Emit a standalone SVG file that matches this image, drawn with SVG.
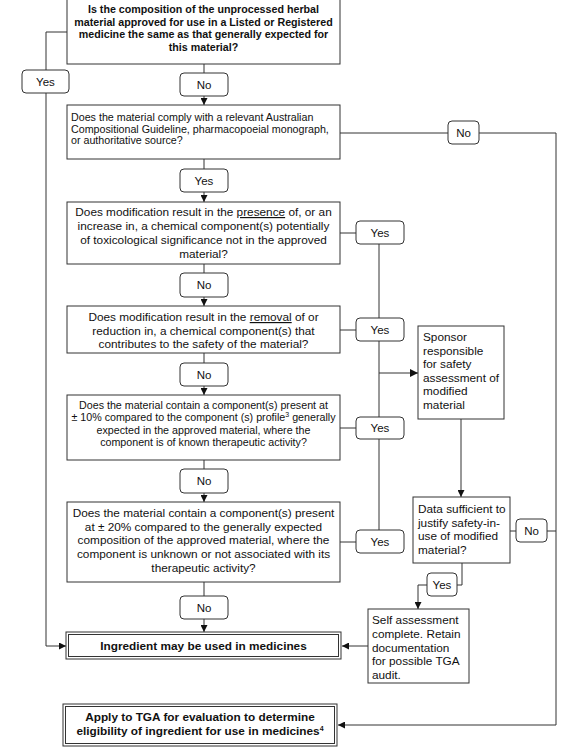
<svg xmlns="http://www.w3.org/2000/svg" width="575" height="749" viewBox="0 0 575 749">
<style>
.box{fill:#fff;stroke:#333;stroke-width:1}
.lbl{fill:#fff;stroke:#333;stroke-width:1}
.ln{fill:none;stroke:#333;stroke-width:1}
text{font-family:"Liberation Sans",Arial,sans-serif;fill:#111}
.t{font-size:11.8px}
.s{font-size:10.7px}
.b{font-weight:bold}
.c{text-anchor:middle}
.l{font-size:11.5px;text-anchor:middle}
</style>
<defs>
<marker id="ah" viewBox="0 0 10 10" refX="10" refY="5" markerWidth="7" markerHeight="7" markerUnits="userSpaceOnUse" orient="auto">
<path d="M0,0 L10,5 L0,10 z" fill="#111"/>
</marker>
<marker id="ah2" viewBox="0 0 10 10" refX="10" refY="5" markerWidth="8" markerHeight="8" markerUnits="userSpaceOnUse" orient="auto">
<path d="M0,0 L10,5 L0,10 z" fill="#111"/>
</marker>
</defs>

<g id="connectors">
<path class="ln" d="M67,32 H46 V646 H66" marker-end="url(#ah)"/>
<path class="ln" d="M204,64 V105" marker-end="url(#ah)"/>
<path class="ln" d="M340,133 H556 V725 H338" marker-end="url(#ah)"/>
<path class="ln" d="M204,159 V202" marker-end="url(#ah)"/>
<path class="ln" d="M204,264 V306" marker-end="url(#ah)"/>
<path class="ln" d="M204,353 V395" marker-end="url(#ah)"/>
<path class="ln" d="M204,460 V502" marker-end="url(#ah)"/>
<path class="ln" d="M204,582 V632" marker-end="url(#ah)"/>
<path class="ln" d="M340,233 H379 V542"/>
<path class="ln" d="M340,330 H379"/>
<path class="ln" d="M340,428 H379"/>
<path class="ln" d="M340,542 H379"/>
<path class="ln" d="M379,373 H418" stroke-width="2" marker-end="url(#ah2)"/>
<path class="ln" d="M461,419 V497" marker-end="url(#ah)"/>
<path class="ln" d="M510,531 H556"/>
<path class="ln" d="M462,563 V585 H418 V609" marker-end="url(#ah)"/>
<path class="ln" d="M368,646 H342" marker-end="url(#ah)"/>
</g>

<g id="q1">
<rect class="box" x="67" y="-1" width="273" height="65"/>
<text class="s b c" x="203.5" y="13">Is the composition of the unprocessed herbal</text>
<text class="s b c" x="203.5" y="25.7">material approved for use in a Listed or Registered</text>
<text class="s b c" x="203.5" y="38.4">medicine the same as that generally expected for</text>
<text class="s b c" x="203.5" y="51.1">this material?</text>
</g>

<g id="q2">
<rect class="box" x="67" y="105" width="273" height="54"/>
<text class="s" x="71" y="121">Does the material comply with a relevant Australian</text>
<text class="s" x="71" y="132.5">Compositional Guideline, pharmacopoeial monograph,</text>
<text class="s" x="71" y="144">or authoritative source?</text>
</g>

<g id="q3">
<rect class="box" x="67" y="202" width="273" height="62"/>
<text class="t c" x="203.5" y="216">Does modification result in the <tspan text-decoration="underline">presence</tspan> of, or an</text>
<text class="t c" x="203.5" y="230">increase in, a chemical component(s) potentially</text>
<text class="t c" x="203.5" y="244">of toxicological significance not in the approved</text>
<text class="t c" x="203.5" y="257.5">material?</text>
</g>

<g id="q4">
<rect class="box" x="67" y="306" width="273" height="47"/>
<text class="t c" x="203.5" y="321">Does modification result in the <tspan text-decoration="underline">removal</tspan> of or</text>
<text class="t c" x="203.5" y="334.7">reduction in, a chemical component(s) that</text>
<text class="t c" x="203.5" y="348">contributes to the safety of the material?</text>
</g>

<g id="q5">
<rect class="box" x="67" y="395" width="273" height="65"/>
<text class="s c" x="203.5" y="408.7">Does the material contain a component(s) present at</text>
<text class="s c" x="203.5" y="421">± 10% compared to the component (s) profile<tspan font-size="7" dy="-4">3</tspan><tspan dy="4"> generally</tspan></text>
<text class="s c" x="203.5" y="434">expected in the approved material, where the</text>
<text class="s c" x="203.5" y="446.4">component is of known therapeutic activity?</text>
</g>

<g id="q6">
<rect class="box" x="67" y="502" width="273" height="80"/>
<text class="t c" x="203.5" y="517">Does the material contain a component(s) present</text>
<text class="t c" x="203.5" y="530.7">at ± 20% compared to the generally expected</text>
<text class="t c" x="203.5" y="544.3">composition of the approved material, where the</text>
<text class="t c" x="203.5" y="558">component is unknown or not associated with its</text>
<text class="t c" x="203.5" y="571.7">therapeutic activity?</text>
</g>

<g id="sponsor">
<rect class="box" x="418" y="326" width="86" height="93"/>
<text class="t" x="423" y="341">Sponsor</text>
<text class="t" x="423" y="354.6">responsible</text>
<text class="t" x="423" y="368.2">for safety</text>
<text class="t" x="423" y="381.8">assessment of</text>
<text class="t" x="423" y="395.4">modified</text>
<text class="t" x="423" y="409">material</text>
</g>

<g id="data">
<rect class="box" x="413" y="497" width="97" height="66"/>
<text class="t" x="418" y="513">Data sufficient to</text>
<text class="t" x="418" y="526.7">justify safety-in-</text>
<text class="t" x="418" y="540.2">use of modified</text>
<text class="t" x="418" y="554">material?</text>
</g>

<g id="self">
<rect class="box" x="368" y="609" width="101" height="74"/>
<text class="t" x="372" y="624">Self assessment</text>
<text class="t" x="372" y="638">complete. Retain</text>
<text class="t" x="372" y="651.5">documentation</text>
<text class="t" x="372" y="665">for possible TGA</text>
<text class="t" x="372" y="679">audit.</text>
</g>

<g id="ingredient">
<rect class="box" x="66" y="632" width="275" height="27"/>
<rect class="box" x="68.5" y="634.5" width="270" height="22"/>
<text class="t b c" x="203.5" y="650">Ingredient may be used in medicines</text>
</g>

<g id="apply">
<rect class="box" x="63" y="704" width="274" height="42"/>
<rect class="box" x="65.5" y="706.5" width="269" height="37"/>
<text class="t b c" x="200" y="721">Apply to TGA for evaluation to determine</text>
<text class="t b c" x="200" y="735">eligibility of ingredient for use in medicines<tspan font-size="7" dy="-4">4</tspan></text>
</g>

<g id="labels">
<g id="yes1"><rect class="lbl" x="22" y="70" width="47" height="23" rx="4"/><text class="l" x="45.5" y="86">Yes</text></g>
<g id="no1"><rect class="lbl" x="180" y="73" width="48" height="23" rx="4"/><text class="l" x="204" y="89">No</text></g>
<g id="no2"><rect class="lbl" x="448" y="121" width="31" height="23" rx="4"/><text class="l" x="463.5" y="137">No</text></g>
<g id="yes2"><rect class="lbl" x="180" y="169" width="48" height="23" rx="4"/><text class="l" x="204" y="185">Yes</text></g>
<g id="yes3"><rect class="lbl" x="356" y="221" width="48" height="23" rx="4"/><text class="l" x="380" y="237">Yes</text></g>
<g id="no3"><rect class="lbl" x="180" y="273" width="48" height="24" rx="4"/><text class="l" x="204" y="289">No</text></g>
<g id="yes4"><rect class="lbl" x="356" y="318" width="48" height="23" rx="4"/><text class="l" x="380" y="334">Yes</text></g>
<g id="no4"><rect class="lbl" x="180" y="363" width="48" height="23" rx="4"/><text class="l" x="204" y="379">No</text></g>
<g id="yes5"><rect class="lbl" x="356" y="417" width="48" height="22" rx="4"/><text class="l" x="380" y="432">Yes</text></g>
<g id="no5"><rect class="lbl" x="180" y="469" width="48" height="24" rx="4"/><text class="l" x="204" y="485">No</text></g>
<g id="yes6"><rect class="lbl" x="356" y="530" width="48" height="23" rx="4"/><text class="l" x="380" y="546">Yes</text></g>
<g id="no6"><rect class="lbl" x="516" y="519" width="31" height="23" rx="4"/><text class="l" x="531.5" y="535">No</text></g>
<g id="yes7"><rect class="lbl" x="427" y="573" width="30" height="23" rx="4"/><text class="l" x="442" y="589">Yes</text></g>
<g id="no7"><rect class="lbl" x="180" y="596" width="48" height="23" rx="4"/><text class="l" x="204" y="612">No</text></g>
</g>
</svg>
